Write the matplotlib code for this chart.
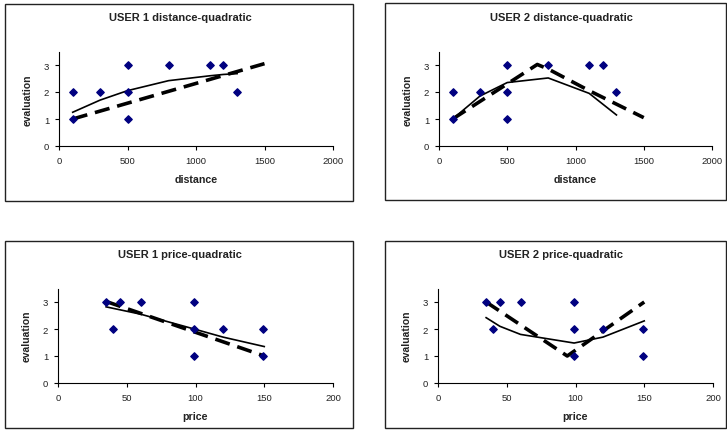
import matplotlib.pyplot as plt
import matplotlib.patches as patches

plt.rcParams['font.family'] = ['Liberation Sans', 'DejaVu Sans']

W, H = 727, 439

# scatter data (same for both users)
dist_x = [100, 100, 300, 500, 500, 500, 800, 1100, 1200, 1300]
dist_u1 = [2, 1, 2, 3, 2, 1, 3, 3, 3, 2]
dist_u2 = [2, 1, 2, 3, 2, 1, 3, 3, 3, 2]
price_x = [35, 40, 45, 60, 99, 99, 99, 120, 149, 149]
price_u1 = [3, 2, 3, 3, 3, 2, 1, 2, 2, 1]
price_u2 = [3, 2, 3, 3, 3, 2, 1, 2, 2, 1]

# fitted curves (solid) and comparison curves (dashed)
u1_dist_fit_x = [100, 300, 500, 800, 1100, 1200, 1300]
u1_dist_fit_y = [1.25, 1.7, 2.05, 2.42, 2.6, 2.65, 2.68]
u1_dist_dash_x = [100, 1500]
u1_dist_dash_y = [1.0, 3.05]

u2_dist_fit_x = [100, 300, 500, 800, 1100, 1300]
u2_dist_fit_y = [1.0, 1.85, 2.35, 2.52, 1.95, 1.15]
u2_dist_dash_x = [100, 300, 500, 720, 800, 1100, 1500]
u2_dist_dash_y = [1.0, 1.65, 2.3, 3.02, 2.85, 2.05, 1.05]

u1_price_fit_x = [35, 60, 99, 120, 150]
u1_price_fit_y = [2.82, 2.55, 2.0, 1.7, 1.35]
u1_price_dash_x = [35, 150]
u1_price_dash_y = [3.02, 1.0]

u2_price_fit_x = [35, 45, 60, 99, 120, 150]
u2_price_fit_y = [2.42, 2.1, 1.8, 1.48, 1.7, 2.3]
u2_price_dash_x = [35, 94, 150]
u2_price_dash_y = [3.0, 1.0, 3.0]

fig = plt.figure(figsize=(W / 100, H / 100), dpi=100)


def box(x0, y0, x1, y1):
    r = patches.Rectangle((x0 / W, 1 - y1 / H), (x1 - x0) / W, (y1 - y0) / H,
                          transform=fig.transFigure, fill=False,
                          edgecolor='#222222', linewidth=1.0)
    fig.add_artist(r)


def panel(x0, y0, x1, y1, title, tx, ty, xlab, xmax, xt, sx, sy, fx, fy, dx, dy):
    ax = fig.add_axes([x0 / W, 1 - y1 / H, (x1 - x0) / W, (y1 - y0) / H])
    ax.plot(fx, fy, color='black', lw=1.2, zorder=2)
    ax.plot(dx, dy, color='black', lw=2.6, dashes=(4.2, 2.2), zorder=2)
    ax.scatter(sx, sy, marker='D', s=14, color='#000080', zorder=3)
    ax.set_xlim(0, xmax)
    ax.set_ylim(0, 3.5)
    ax.set_xticks(xt)
    ax.set_yticks([0, 1, 2, 3])
    for s in ['top', 'right']:
        ax.spines[s].set_visible(False)
    ax.spines['left'].set_linewidth(0.8)
    ax.spines['bottom'].set_linewidth(0.8)
    ax.tick_params(direction='out', length=3, width=0.8, labelsize=6.8, pad=4,
                   labelcolor='#222222')
    ax.set_xlabel(xlab, fontsize=7.7, fontweight='bold', labelpad=7, color='#222222')
    ax.set_ylabel('evaluation', fontsize=7.5, fontweight='bold', labelpad=8, color='#222222')
    fig.text(tx / W, 1 - ty / H, title, fontsize=8, fontweight='bold',
             ha='center', va='center', color='#222222')
    return ax


box(5, 5, 353, 202)
box(385, 4, 726, 201)
box(5, 242, 353, 429)
box(385, 242, 726, 429)

dist_ticks = [0, 500, 1000, 1500, 2000]
price_ticks = [0, 50, 100, 150, 200]

panel(59, 52.5, 333, 147, 'USER 1 distance-quadratic', 180, 18, 'distance', 2000,
      dist_ticks, dist_x, dist_u1, u1_dist_fit_x, u1_dist_fit_y, u1_dist_dash_x, u1_dist_dash_y)
panel(439, 52.5, 712, 147, 'USER 2 distance-quadratic', 561, 18, 'distance', 2000,
      dist_ticks, dist_x, dist_u2, u2_dist_fit_x, u2_dist_fit_y, u2_dist_dash_x, u2_dist_dash_y)
panel(58, 289.5, 333, 384, 'USER 1 price-quadratic', 180, 255, 'price', 200,
      price_ticks, price_x, price_u1, u1_price_fit_x, u1_price_fit_y, u1_price_dash_x, u1_price_dash_y)
panel(438, 289.5, 713, 384, 'USER 2 price-quadratic', 561, 255, 'price', 200,
      price_ticks, price_x, price_u2, u2_price_fit_x, u2_price_fit_y, u2_price_dash_x, u2_price_dash_y)

fig.savefig('out.png', dpi=100)
